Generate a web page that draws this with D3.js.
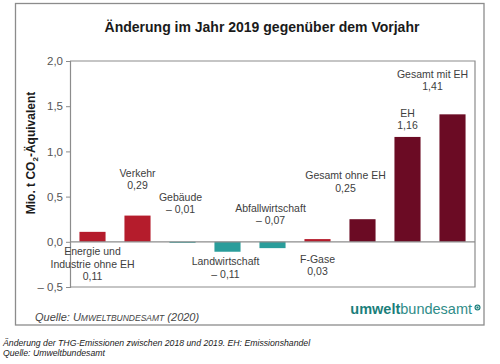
<!DOCTYPE html>
<html>
<head>
<meta charset="utf-8">
<script src="https://cdn.jsdelivr.net/npm/d3@7"></script>
<style>
  html, body { margin: 0; padding: 0; background: #fff; }
  svg { display: block; font-family: "Liberation Sans", Arial, sans-serif; }
</style>
</head>
<body>
<svg id="chart" width="500" height="364"></svg>
<script>
// ---- data ----
const categories = [
  ["Energie und", "Industrie ohne EH"],
  ["Verkehr"],
  ["Gebäude"],
  ["Landwirtschaft"],
  ["Abfallwirtschaft"],
  ["F-Gase"],
  ["Gesamt ohne EH"],
  ["EH"],
  ["Gesamt mit EH"]
];
const values = [0.11, 0.29, -0.01, -0.11, -0.07, 0.03, 0.25, 1.16, 1.41];
const valueLabels = ["0,11", "0,29", "– 0,01", "– 0,11", "– 0,07", "0,03", "0,25", "1,16", "1,41"];
const groups = ["sector", "sector", "sector", "sector", "sector", "sector", "total", "total", "total"];
const yTicks = [-0.5, 0, 0.5, 1.0, 1.5, 2.0];
const yTickLabels = ["– 0,5", "0,0", "0,5", "1,0", "1,5", "2,0"];

// ---- layout (label anchor in axis units, horizontal shift in px) ----
const labelAt = [-0.11, 0.76, 0.49, -0.22, 0.375, -0.19, 0.73, 1.425, 1.856];
const labelDx = [0, 0, -2, -2, -2, 0, -17, 0, -20];

const svg = d3.select("#chart");
const textColor = "#404040";

// frame
svg.append("rect").attr("x", 15.5).attr("y", 3.5).attr("width", 468.5).attr("height", 321.5)
  .attr("fill", "none").attr("stroke", "#8c8c8c").attr("stroke-width", 1.3);

// title
svg.append("text").attr("x", 262).attr("y", 32).attr("text-anchor", "middle")
  .attr("font-size", 14).attr("font-weight", "bold").attr("fill", "#1a1a1a")
  .text("Änderung im Jahr 2019 gegenüber dem Vorjahr");

const plot = { left: 70, right: 475, top: 61, bottom: 287 };

const x = d3.scaleBand().domain(d3.range(categories.length))
  .range([plot.left, plot.right]).paddingInner(0.42).paddingOuter(0.21);
const y = d3.scaleLinear().domain([-0.5, 2.0]).range([plot.bottom, plot.top]);

const color = (v, g) => g === "total" ? "#6b0b24" : (v < 0 ? "#2a9d9b" : "#b51c2c");

// plot border (top, right, bottom)
svg.append("path")
  .attr("d", `M${plot.left},${plot.top}H${plot.right}V${plot.bottom}H${plot.left}`)
  .attr("fill", "none").attr("stroke", "#8c8c8c").attr("stroke-width", 1.2);

// y axis
const yAxis = d3.axisLeft(y).tickValues(yTicks)
  .tickFormat((d, i) => yTickLabels[i]).tickSize(4).tickPadding(3);
const gy = svg.append("g").attr("transform", `translate(${plot.left},0)`).call(yAxis);
gy.select(".domain").attr("stroke", "#8c8c8c").attr("stroke-width", 1.2);
gy.selectAll(".tick line").attr("stroke", "#8c8c8c");
gy.selectAll(".tick text").attr("fill", "#555").attr("font-size", 11.5)
  .attr("font-family", "Liberation Sans, Arial, sans-serif");

// y label
svg.append("text")
  .attr("transform", `translate(35,153) rotate(-90)`)
  .attr("text-anchor", "middle").attr("font-size", 12).attr("font-weight", "bold")
  .attr("fill", "#1a1a1a")
  .call(t => {
    t.append("tspan").text("Mio. t CO");
    t.append("tspan").attr("font-size", 8).attr("dy", 3).text("2");
    t.append("tspan").attr("dy", -3).text("-Äquivalent");
  });

// bars
svg.append("g").selectAll("rect").data(values).join("rect")
  .attr("x", (d, i) => x(i))
  .attr("width", x.bandwidth())
  .attr("y", d => Math.min(y(d), y(0)))
  .attr("height", d => Math.max(1, Math.abs(y(d) - y(0))))
  .attr("fill", (d, i) => color(d, groups[i]));

// zero line
svg.append("line").attr("x1", plot.left).attr("x2", plot.right)
  .attr("y1", y(0)).attr("y2", y(0)).attr("stroke", "#8c8c8c").attr("stroke-width", 1.2);

// labels
const lab = svg.append("g").attr("font-size", 10.5).attr("fill", textColor).attr("text-anchor", "middle");
categories.forEach((lines, i) => {
  const cx = x(i) + x.bandwidth() / 2 + labelDx[i];
  const y0 = y(labelAt[i]);
  const all = lines.concat([valueLabels[i]]);
  all.forEach((s, k) => {
    lab.append("text").attr("x", cx).attr("y", y0 + k * 12.2).attr("dy", "0.35em").text(s);
  });
});

// source line inside frame
svg.append("text").attr("x", 35).attr("y", 317).attr("dy", "0.35em")
  .attr("font-size", 11).attr("font-style", "italic").attr("fill", "#444")
  .call(t => {
    t.append("tspan").text("Quelle: U");
    t.append("tspan").attr("font-size", 8.5).text("MWELTBUNDESAMT");
    t.append("tspan").text(" (2020)");
  });

// logo
const logo = svg.append("text").attr("x", 472).attr("y", 314).attr("text-anchor", "end")
  .attr("font-size", 14.5).attr("fill", "#1b7f7b");
logo.append("tspan").attr("font-weight", "bold").text("umwelt");
logo.append("tspan").attr("fill", "#2f8c88").text("bundesamt");
svg.append("circle").attr("cx", 477.5).attr("cy", 307.5).attr("r", 3).attr("fill", "#1b7f7b");
svg.append("circle").attr("cx", 477.5).attr("cy", 307.5).attr("r", 1.4).attr("fill", "none")
  .attr("stroke", "#fff").attr("stroke-width", 0.8);

// caption below frame
const cap = svg.append("g").attr("font-size", 8.7).attr("font-style", "italic").attr("fill", "#222");
cap.append("text").attr("x", 3).attr("y", 343).attr("dy", "0.35em")
  .text("Änderung der THG-Emissionen zwischen 2018 und 2019. EH: Emissionshandel");
cap.append("text").attr("x", 3).attr("y", 353).attr("dy", "0.35em")
  .text("Quelle: Umweltbundesamt");
</script>
</body>
</html>
